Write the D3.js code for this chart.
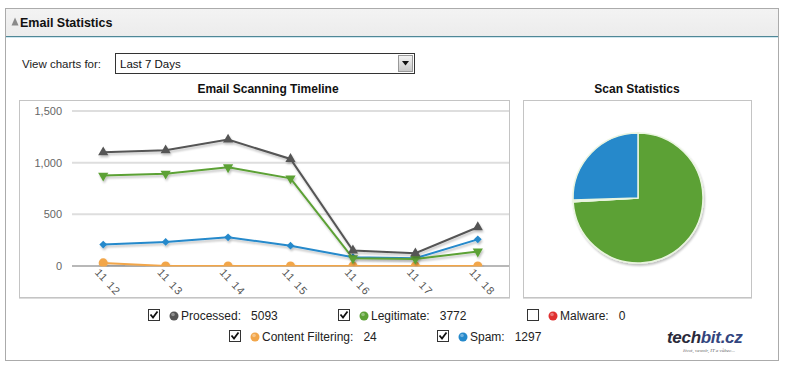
<!DOCTYPE html>
<html><head><meta charset="utf-8">
<script src="https://cdn.jsdelivr.net/npm/d3@7"></script>
<style>
html,body{margin:0;padding:0;background:#fff;}
svg{display:block;font-family:"Liberation Sans",Arial,sans-serif;}
</style></head>
<body>
<svg id="c" width="787" height="368"></svg>
<script>
// ---- data ----
const days = ["11 12","11 13","11 14","11 15","11 16","11 17","11 18"];
const processed = [1100, 1120, 1223, 1036, 150, 123, 375];
const legitimate = [875, 893, 955, 848, 75, 68, 140];
const spam = [207, 233, 278, 197, 85, 75, 258];
const contentFiltering = [30, 0, 0, 0, 0, 0, 0];
const yTicks = [0, 500, 1000, 1500];
const legendNames = ["Processed","Legitimate","Malware","Content Filtering","Spam"];
const legendTotals = [5093, 3772, 0, 24, 1297];
const legendChecked = [true, true, false, true, true];
const pieNames = ["Legitimate","Malware","Content Filtering","Spam"];
const pieValues = [3772, 0, 24, 1297];

const colors = {Processed:"#555555", Legitimate:"#5ca135", Malware:"#e03030", "Content Filtering":"#f2a64a", Spam:"#2589cb"};

const svg = d3.select("#c");
const defs = svg.append("defs");
const sh = defs.append("filter").attr("id","sh").attr("x","-10%").attr("y","-10%").attr("width","130%").attr("height","130%");
sh.append("feGaussianBlur").attr("in","SourceAlpha").attr("stdDeviation",1.2);
sh.append("feOffset").attr("dx",1).attr("dy",1.5).attr("result","b");
sh.append("feComponentTransfer").append("feFuncA").attr("type","linear").attr("slope",0.25);
const m = sh.append("feMerge"); m.append("feMergeNode"); m.append("feMergeNode").attr("in","SourceGraphic");

const hg = defs.append("linearGradient").attr("id","hg").attr("x1",0).attr("y1",0).attr("x2",0).attr("y2",1);
hg.append("stop").attr("offset","0").attr("stop-color","#f3f3f3");
hg.append("stop").attr("offset","1").attr("stop-color","#ececec");
const bg = defs.append("linearGradient").attr("id","bg").attr("x1",0).attr("y1",0).attr("x2",0).attr("y2",1);
bg.append("stop").attr("offset","0").attr("stop-color","#f4f4f4");
bg.append("stop").attr("offset","1").attr("stop-color","#c8c8c8");

// ---- outer panel ----
svg.append("rect").attr("x",5.5).attr("y",8.5).attr("width",773).attr("height",352).attr("fill","#fff").attr("stroke","#ababab");
svg.append("rect").attr("x",6).attr("y",9).attr("width",772).attr("height",27).attr("fill","url(#hg)");
svg.append("line").attr("x1",6).attr("x2",778).attr("y1",36.5).attr("y2",36.5).attr("stroke","#4f8796");
svg.append("line").attr("x1",6).attr("x2",778).attr("y1",37.5).attr("y2",37.5).attr("stroke","#cfe6ee");
svg.append("path").attr("d","M11.5,25.5 L15,17.5 L18.5,25.5 Z").attr("fill","#8a8a8a");
svg.append("text").attr("x",20).attr("y",26.5).attr("font-size",12.5).attr("font-weight","bold").attr("fill","#111").text("Email Statistics");

// ---- view charts for ----
svg.append("text").attr("x",22).attr("y",68).attr("font-size",11.5).attr("fill","#222").text("View charts for:");
svg.append("rect").attr("x",115.5).attr("y",53.5).attr("width",299).attr("height",20).attr("fill","#fff").attr("stroke","#333");
svg.append("text").attr("x",120).attr("y",68).attr("font-size",11.5).attr("fill","#111").text("Last 7 Days");
svg.append("rect").attr("x",398.5).attr("y",55.5).attr("width",14).attr("height",16).attr("fill","url(#bg)").attr("stroke","#999");
svg.append("path").attr("d","M402,61 L409,61 L405.5,65.5 Z").attr("fill","#111");

// ---- line chart ----
svg.append("rect").attr("x",19.5).attr("y",100.5).attr("width",490).attr("height",197).attr("fill","#fff").attr("stroke","#c4c4c4");
svg.append("line").attr("x1",19).attr("x2",510).attr("y1",298.5).attr("y2",298.5).attr("stroke","#dcdcdc");
svg.append("text").attr("x",268).attr("y",93).attr("text-anchor","middle").attr("font-size",12).attr("font-weight","bold").attr("fill","#111").text("Email Scanning Timeline");

const x = d3.scalePoint().domain(days).range([72, 509]).padding(0.5);
const y = d3.scaleLinear().domain([0, 1500]).range([266, 111]);

const g = svg.append("g");
g.selectAll("line.grid").data(yTicks.filter(d=>d>0)).join("line")
  .attr("x1",72).attr("x2",509).attr("y1",d=>y(d)).attr("y2",d=>y(d))
  .attr("stroke","#dedede").attr("stroke-width",2);
g.append("line").attr("x1",72).attr("x2",509).attr("y1",y(0)).attr("y2",y(0)).attr("stroke","#b8b8b8").attr("stroke-width",2);

const fmt = d3.format(",");
g.selectAll("text.yl").data(yTicks).join("text")
  .attr("x",62).attr("y",d=>y(d)+4).attr("text-anchor","end").attr("font-size",11).attr("fill","#666").text(d=>fmt(d));

g.selectAll("text.xl").data(days).join("text")
  .attr("transform",d=>`translate(${x(d)-9},${y(0)+7}) rotate(47)`)
  .attr("font-size",11).attr("fill","#555").attr("letter-spacing",1).text(d=>d);

defs.append("clipPath").attr("id","plot").append("rect").attr("x",60).attr("y",100).attr("width",460).attr("height",y(0)-100+0.5);

const series = [
  {name:"Content Filtering", vals:contentFiltering, sym:"circle"},
  {name:"Spam", vals:spam, sym:"diamond"},
  {name:"Legitimate", vals:legitimate, sym:"down"},
  {name:"Processed", vals:processed, sym:"up"}
];
const line = d3.line().x((d,i)=>x(days[i])).y(d=>y(d));
const pg = g.append("g").attr("clip-path","url(#plot)");
series.forEach(s=>{
  const sg = pg.append("g").attr("filter","url(#sh)");
  sg.append("path").datum(s.vals).attr("d",line).attr("fill","none").attr("stroke",colors[s.name]).attr("stroke-width",2);
  let sym, size, rot=0;
  if (s.sym==="circle"){sym=d3.symbolCircle; size=65;}
  else if (s.sym==="diamond"){sym=d3.symbolSquare; size=30; rot=45;}
  else if (s.sym==="up"){sym=d3.symbolTriangle; size=45;}
  else {sym=d3.symbolTriangle; size=45; rot=180;}
  sg.selectAll("path.pt").data(s.vals).join("path")
    .attr("d",d3.symbol().type(sym).size(size))
    .attr("transform",(d,i)=>`translate(${x(days[i])},${y(d)}) rotate(${rot})`)
    .attr("fill",colors[s.name]);
});

// ---- pie ----
svg.append("rect").attr("x",523.5).attr("y",100.5).attr("width",228).attr("height",197).attr("fill","#fff").attr("stroke","#c4c4c4");
svg.append("line").attr("x1",523).attr("x2",752).attr("y1",298.5).attr("y2",298.5).attr("stroke","#dcdcdc");
svg.append("text").attr("x",637).attr("y",93).attr("text-anchor","middle").attr("font-size",12).attr("font-weight","bold").attr("fill","#111").text("Scan Statistics");
const pieData = d3.pie().sort(null).value(d=>d)(pieValues);
const arc = d3.arc().innerRadius(0).outerRadius(65);
const pgp = svg.append("g").attr("transform","translate(638,198)").attr("filter","url(#sh)");
pgp.selectAll("path").data(pieData).join("path")
  .attr("d",arc).attr("fill",(d,i)=>colors[pieNames[i]])
  .attr("stroke","#eaf5e0").attr("stroke-width",1.5);

// ---- legend ----
const legPos = [
  {cx:148, cy:309},{cx:338, cy:309},{cx:527, cy:309},
  {cx:229, cy:330},{cx:437, cy:330}
];
const lg = svg.append("g");
legendNames.forEach((n,i)=>{
  const p = legPos[i];
  const gg = lg.append("g").attr("transform",`translate(${p.cx},${p.cy})`);
  gg.append("rect").attr("x",0.5).attr("y",0.5).attr("width",11).attr("height",11).attr("fill","#fff").attr("stroke","#333");
  if (legendChecked[i]) gg.append("path").attr("d","M2.5,5.5 L5,8.5 L9.5,2.5").attr("fill","none").attr("stroke","#111").attr("stroke-width",1.8);
  gg.append("circle").attr("cx",26).attr("cy",7).attr("r",4.5).attr("fill",colors[n]);
  gg.append("circle").attr("cx",25).attr("cy",5.5).attr("r",1.8).attr("fill","#fff").attr("opacity",0.35);
  const t = gg.append("text").attr("x",33).attr("y",11).attr("font-size",12).attr("fill","#222").text(n+":");
  const w = t.node().getComputedTextLength();
  gg.append("text").attr("x",33+w+10).attr("y",11).attr("font-size",12).attr("fill","#222").text(legendTotals[i]);
});

// ---- logo ----
const logo = svg.append("text").attr("x",667).attr("y",343).attr("font-size",17).attr("font-weight","bold").attr("font-style","italic").attr("font-family","'Liberation Sans',Arial,sans-serif").attr("letter-spacing",-0.3);
logo.append("tspan").attr("fill","#2a2a3a").text("tech");
logo.append("tspan").attr("fill","#33457e").text("bit.cz");
svg.append("text").attr("x",735).attr("y",352).attr("text-anchor","end").attr("font-size",5).attr("font-style","italic").attr("font-family","'Liberation Serif',serif").attr("fill","#666").text("život, vesmír, IT a vůbec...");
</script>
</body></html>
